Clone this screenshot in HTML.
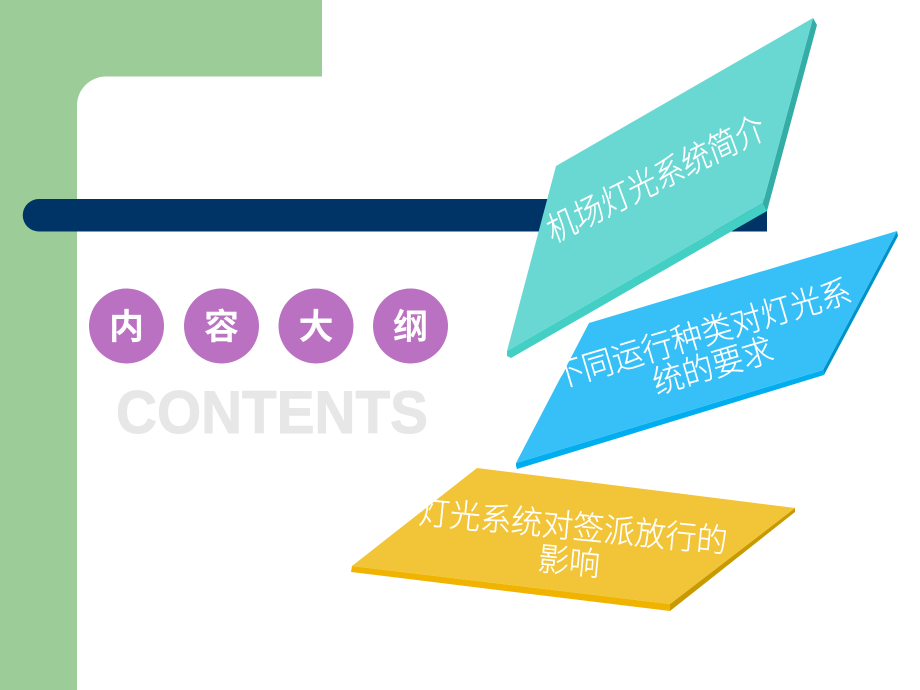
<!DOCTYPE html>
<html lang="zh">
<head>
<meta charset="utf-8">
<style>
html,body{margin:0;padding:0;background:#fff;width:920px;height:690px;overflow:hidden}
svg{display:block}
.cjk{font-family:"Liberation Sans","Noto Sans CJK SC",sans-serif}
.t{font-weight:300;font-size:31px;fill:#fff;stroke:#fff;stroke-width:.25;text-anchor:middle}
.c{font-weight:700;font-size:35px;fill:#fff;text-anchor:middle}
</style>
</head>
<body>
<svg width="920" height="690" viewBox="0 0 920 690" xmlns="http://www.w3.org/2000/svg">
<rect width="920" height="690" fill="#fff"/>
<path d="M0 0H322V76.500H106A29 29 0 0 0 77 105.500V690H0Z" fill="#9ccc98"/>
<path d="M39 199H767V231.500H39A16.250 16.250 0 0 1 39 199Z" fill="#003366"/>

<circle cx="126.500" cy="326" r="37.500" fill="#ba71c2"/>
<circle cx="221.500" cy="326" r="37.500" fill="#ba71c2"/>
<circle cx="316" cy="326" r="37.500" fill="#ba71c2"/>
<circle cx="410.500" cy="326" r="37.500" fill="#ba71c2"/>
<text class="c cjk" x="126.500" y="339">内</text>
<text class="c cjk" x="221.500" y="339">容</text>
<text class="c cjk" x="316" y="339">大</text>
<text class="c cjk" x="410.500" y="339">纲</text>
<text x="116" y="433" font-family="'Liberation Sans',sans-serif" font-weight="700" font-size="60" fill="#e7e7e7" stroke="#e7e7e7" stroke-width="1" textLength="312" lengthAdjust="spacingAndGlyphs">CONTENTS</text>

<polygon points="813,18 817,25 767,211 763,203" fill="#35ada7"/>
<polygon points="507,351 763,203 767,211 511,358 507,356" fill="#44cfc5"/>
<polygon points="556,166 813,18 763,203 507,351" fill="#69d8d3"/>
<text class="t cjk" style="font-size:30px" transform="translate(660,190) rotate(-26.500) skewX(-6) scale(1,1.12)">机场灯光系统简介</text>

<polygon points="897,231 898,236 824,375 823,370" fill="#0093c9"/>
<polygon points="516,463 823,370 824,375 517,469 516,466" fill="#00aeef"/>
<polygon points="589,323 897,231 823,370 516,463" fill="#36c0f7"/>
<text class="t cjk" transform="translate(705,345) rotate(-16.500) scale(1,1.06)">不同运行种类对灯光系</text>
<text class="t cjk" transform="translate(716,377) rotate(-16.500) scale(1,1.06)">统的要求</text>

<polygon points="795,508 795,512 670,611 670,604" fill="#c89a00"/>
<polygon points="352,566 670,604 670,611 351,572" fill="#f0b400"/>
<polygon points="477,468 795,508 670,604 352,566" fill="#f2c438"/>
<text class="t cjk" transform="translate(572,538) rotate(5.500) scale(1,1.06)">灯光系统对签派放行的</text>
<text class="t cjk" transform="translate(568,573) rotate(5.500) scale(1,1.06)">影响</text>
</svg>
</body>
</html>
